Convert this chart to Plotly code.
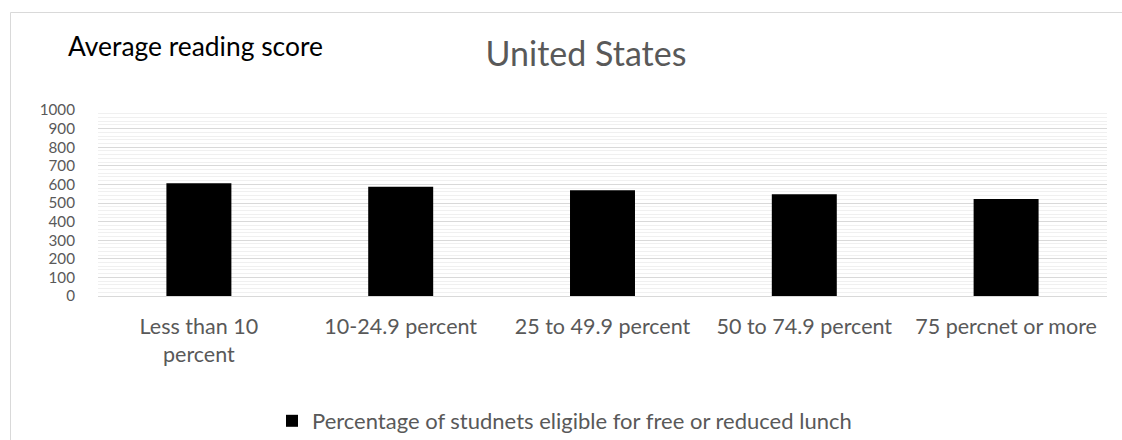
import plotly.graph_objects as go

categories = ["Less than 10<br>percent", "10-24.9 percent", "25 to 49.9 percent",
              "50 to 74.9 percent", "75 percnet or more"]
scores = [606, 587, 569, 547, 522]
series_name = "Percentage of studnets eligible for free or reduced lunch"
y_ticks = [0, 100, 200, 300, 400, 500, 600, 700, 800, 900, 1000]
chart_title = "United States"
y_title = "Average reading score"

W, H = 1122, 440
L, R, T, B = 98, 15, 110, 144
pw, ph = W - L - R, H - T - B

def px_x(p):
    return (p - L) / pw

def px_y(p):
    return (H - B - p) / ph

FONT = "Lato"
GRAY = "#595959"

fig = go.Figure()
fig.add_trace(go.Bar(
    x=categories, y=scores, name=series_name,
    marker=dict(color="#000000", line=dict(width=0)),
    showlegend=True,
))

fig.update_layout(
    width=W, height=H,
    margin=dict(l=L, r=R, t=T, b=B, pad=0, autoexpand=False),
    paper_bgcolor="white", plot_bgcolor="white",
    bargap=0.678,
    font=dict(family=FONT, color=GRAY, size=21),
    title=dict(text=chart_title, x=586 / W, xanchor="center", xref="container",
               y=1 - 54 / H, yanchor="middle", yref="container",
               font=dict(family=FONT, size=34, color=GRAY)),
    showlegend=True,
    legend=dict(orientation="h", x=px_x(272), xanchor="left",
                y=px_y(421), yanchor="middle",
                font=dict(family=FONT, size=22, color=GRAY),
                bgcolor="rgba(0,0,0,0)"),
    annotations=[dict(text=y_title, xref="paper", yref="paper",
                      x=px_x(66), y=px_y(46), xanchor="left", yanchor="middle",
                      showarrow=False,
                      font=dict(family=FONT, size=26.4, color="#000000"))],
    shapes=[
        dict(type="line", xref="paper", yref="paper",
             x0=px_x(10.5), x1=px_x(1140), y0=px_y(12.5), y1=px_y(12.5),
             line=dict(color="#d9d9d9", width=1)),
        dict(type="line", xref="paper", yref="paper",
             x0=px_x(10.5), x1=px_x(10.5), y0=px_y(12.5), y1=px_y(460),
             line=dict(color="#d9d9d9", width=1)),
    ],
)

fig.update_yaxes(
    range=[0, 1000], tickvals=y_ticks, ticktext=[str(v) for v in y_ticks],
    showgrid=True, gridcolor="#d9d9d9", gridwidth=1,
    minor=dict(dtick=20, showgrid=True, gridcolor="#f0f0f0", gridwidth=1),
    zeroline=True, zerolinecolor="#d9d9d9", zerolinewidth=1,
    ticks="", ticklabelstandoff=22, automargin=False,
    tickfont=dict(family=FONT, size=15.2, color=GRAY),
    showline=False, fixedrange=True,
)
fig.update_xaxes(
    showgrid=False, ticks="", ticklabelstandoff=11, automargin=False,
    tickfont=dict(family=FONT, size=21.5, color=GRAY),
    showline=True, linecolor="#d9d9d9", linewidth=1,
    tickangle=0, fixedrange=True,
)

fig.write_html(
    "out.html",
    config={"displayModeBar": False, "staticPlot": False},
    post_script="document.documentElement.style.margin='0';"
                "document.body.style.margin='0';"
                "document.body.style.overflow='hidden';",
)
